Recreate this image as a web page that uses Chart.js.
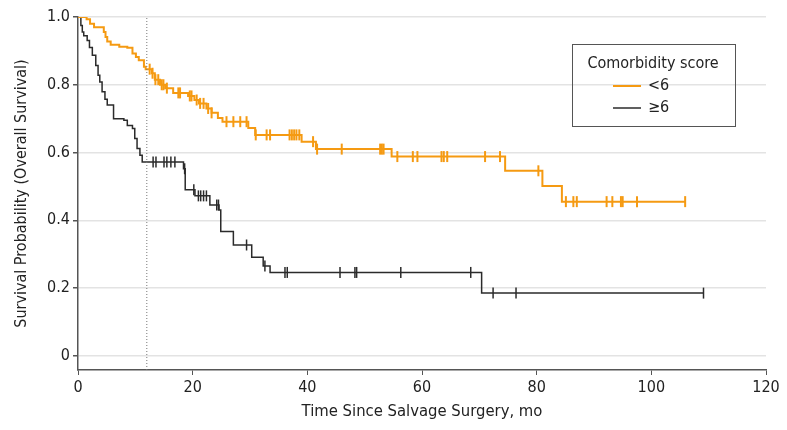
<!DOCTYPE html>
<html>
<head>
<meta charset="utf-8">
<script src="https://cdn.jsdelivr.net/npm/chart.js@4"></script>
<style>
  body { margin: 0; background: #fff; }
</style>
</head>
<body>
<canvas id="km" width="787" height="430"></canvas>
<script>
// Kaplan-Meier steps (months, survival)
const lowTimes = [0, 1.5, 2.1, 2.8, 4.5, 4.8, 5.1, 5.7, 7.2, 8.6, 9.5, 10.1, 10.6, 11.5, 11.8, 12.9, 13.4, 14.3, 15.2, 16.6, 19.2, 20.3, 21.1, 22.4, 23.3, 24.4, 25.2, 29.7, 30.9, 39.0, 41.5, 54.7, 74.5, 81.0, 84.4, 105.9];
const lowSurv = [1.0, 0.993, 0.98, 0.97, 0.956, 0.941, 0.928, 0.918, 0.912, 0.909, 0.892, 0.882, 0.872, 0.853, 0.846, 0.834, 0.815, 0.8, 0.79, 0.776, 0.767, 0.755, 0.745, 0.73, 0.717, 0.702, 0.691, 0.672, 0.652, 0.632, 0.61, 0.588, 0.546, 0.501, 0.455, 0.455];
const lowCensor = [12.5, 13.0, 13.5, 14.0, 14.6, 14.9, 15.5, 17.5, 17.8, 19.5, 19.8, 20.7, 21.3, 21.9, 22.7, 23.3, 25.9, 27.1, 28.3, 29.4, 31.0, 32.9, 33.5, 36.9, 37.3, 37.7, 38.1, 38.6, 41.0, 41.7, 46.0, 52.7, 53.0, 53.3, 55.7, 58.4, 59.2, 63.4, 63.8, 64.4, 71.0, 73.6, 80.3, 85.1, 86.4, 87.0, 92.2, 93.2, 94.7, 95.0, 97.5, 105.9];

const highTimes = [0, 0.5, 0.75, 1.0, 1.6, 2.0, 2.5, 3.1, 3.5, 3.8, 4.2, 4.7, 5.1, 6.2, 8.0, 8.6, 9.5, 9.9, 10.3, 10.8, 11.2, 18.4, 18.7, 20.4, 23.0, 24.6, 24.9, 27.1, 30.3, 32.3, 33.5, 70.4, 109.1];
const highSurv = [1.0, 0.975, 0.956, 0.945, 0.931, 0.91, 0.887, 0.857, 0.828, 0.808, 0.779, 0.757, 0.74, 0.7, 0.695, 0.68, 0.671, 0.641, 0.612, 0.592, 0.572, 0.552, 0.49, 0.472, 0.445, 0.43, 0.367, 0.327, 0.291, 0.265, 0.246, 0.185, 0.185];
const highCensor = [13.1, 13.6, 15.0, 15.5, 16.2, 16.9, 18.6, 20.2, 21.0, 21.4, 21.9, 22.4, 24.2, 24.5, 29.4, 32.6, 36.1, 36.5, 45.7, 48.3, 48.6, 56.3, 68.5, 72.4, 76.4, 109.1];

const groupLabels = ['<6', '≥6'];
const xTicks = [0, 20, 40, 60, 80, 100, 120];
const yTicks = [0, 0.2, 0.4, 0.6, 0.8, 1.0];
const landmark = 12;

const orange = '#F59A12';
const dark = '#2b2b2b';
const font = "'Liberation Sans Narrow', 'DejaVu Sans Condensed', sans-serif";

const steps = (ts, ss) => ts.map((t, i) => ({ x: t, y: ss[i] }));
const survAt = (ts, ss, t) => {
    let v = ss[0];
    ts.forEach((tt, i) => { if (tt <= t) v = ss[i]; });
    return v;
};
const censorPts = (cs, ts, ss) => cs.map(t => ({ x: t, y: survAt(ts, ss, t) }));

// legend box drawn inside the plot
const kmLegend = {
    id: 'kmLegend',
    afterDraw(chart) {
        const ctx = chart.ctx;
        ctx.save();
        ctx.strokeStyle = '#555';
        ctx.lineWidth = 1;
        ctx.strokeRect(572.5, 44.5, 163, 82);
        ctx.fillStyle = '#222';
        ctx.font = `16px ${font}`;
        ctx.textAlign = 'center';
        ctx.textBaseline = 'middle';
        ctx.fillText('Comorbidity score', 653, 64);
        ctx.textAlign = 'left';
        [[orange, 2, 86], [dark, 1.5, 108]].forEach(([c, w, y], i) => {
            ctx.strokeStyle = c;
            ctx.lineWidth = w;
            ctx.beginPath();
            ctx.moveTo(613, y);
            ctx.lineTo(641, y);
            ctx.stroke();
            ctx.fillText(groupLabels[i], 648, y);
        });
        ctx.restore();
    }
};

new Chart(document.querySelector('#km'), {
    type: 'scatter',
    data: {
        datasets: [
            {
                label: 'landmark',
                data: [{ x: landmark, y: -0.042 }, { x: landmark, y: 1.0 }],
                showLine: true,
                borderColor: '#777',
                borderWidth: 1,
                borderDash: [1, 2],
                pointRadius: 0
            },
            {
                label: groupLabels[0],
                data: steps(lowTimes, lowSurv),
                showLine: true,
                stepped: 'before',
                borderColor: orange,
                borderWidth: 2,
                pointRadius: 0
            },
            {
                label: groupLabels[0] + ' censored',
                data: censorPts(lowCensor, lowTimes, lowSurv),
                pointStyle: 'line',
                rotation: 90,
                radius: 5.5,
                borderColor: orange,
                borderWidth: 2
            },
            {
                label: groupLabels[1],
                data: steps(highTimes, highSurv),
                showLine: true,
                stepped: 'before',
                borderColor: dark,
                borderWidth: 1.5,
                pointRadius: 0
            },
            {
                label: groupLabels[1] + ' censored',
                data: censorPts(highCensor, highTimes, highSurv),
                pointStyle: 'line',
                rotation: 90,
                radius: 5.5,
                borderColor: dark,
                borderWidth: 1.5
            }
        ]
    },
    options: {
        responsive: false,
        animation: false,
        devicePixelRatio: 1,
        layout: { padding: { left: 0, top: 17, right: 21, bottom: 0 } },
        plugins: {
            legend: { display: false },
            tooltip: { enabled: false }
        },
        scales: {
            x: {
                type: 'linear',
                min: 0,
                max: 120,
                afterBuildTicks: axis => { axis.ticks = xTicks.map(v => ({ value: v })); },
                afterFit: axis => { axis.height = 60; },
                ticks: { color: '#222', font: { family: font, size: 16 }, padding: 3, maxRotation: 0 },
                grid: { drawOnChartArea: false, tickLength: 5, tickColor: '#555' },
                border: { color: '#555', width: 1.5 },
                title: {
                    display: true,
                    text: 'Time Since Salvage Surgery, mo',
                    color: '#222',
                    font: { family: font, size: 16.5 },
                    padding: { top: 2, bottom: 8 }
                }
            },
            y: {
                min: -0.042,
                max: 1.0,
                afterBuildTicks: axis => { axis.ticks = yTicks.map(v => ({ value: v })); },
                afterFit: axis => { axis.width = 78; },
                ticks: {
                    color: '#222',
                    font: { family: font, size: 16 },
                    padding: 3,
                    callback: v => v === 0 ? '0' : v.toFixed(1)
                },
                grid: { color: '#e3e3e3', lineWidth: 1.5, tickLength: 5, tickColor: '#555' },
                border: { color: '#555', width: 1.5 },
                title: {
                    display: true,
                    text: 'Survival Probability (Overall Survival)',
                    color: '#222',
                    font: { family: font, size: 16 },
                    padding: { top: 12, bottom: 4 }
                }
            }
        }
    },
    plugins: [kmLegend]
});
</script>
</body>
</html>
